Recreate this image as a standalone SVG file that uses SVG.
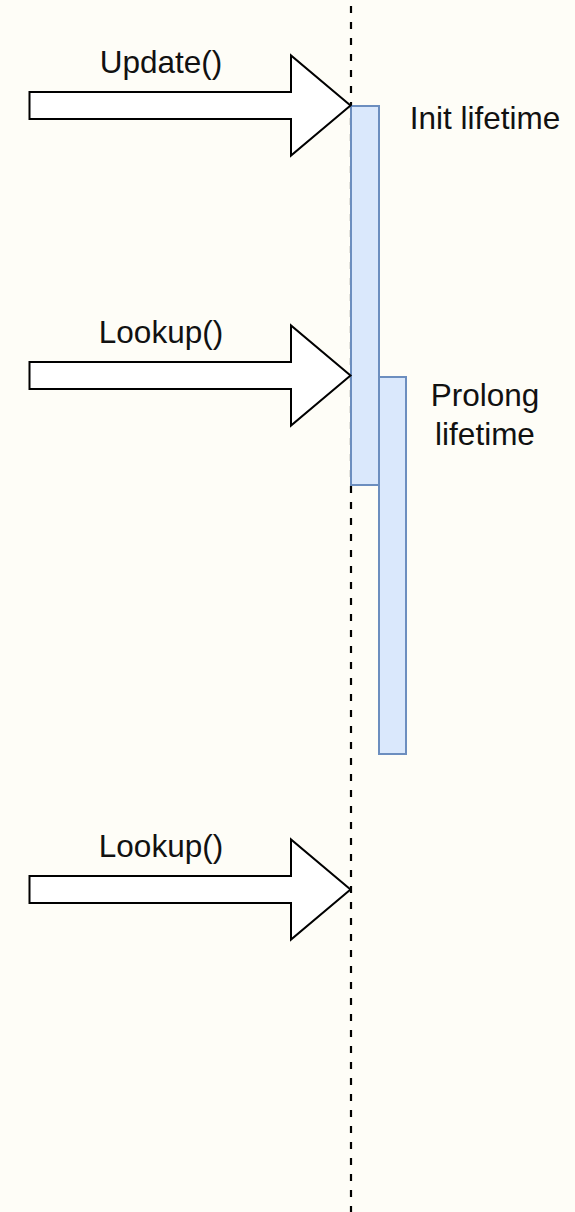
<svg xmlns="http://www.w3.org/2000/svg" width="575" height="1212" viewBox="0 0 575 1212">
  <style>
    .call { fill: #ffffff; stroke: #000000; stroke-width: 2; stroke-linejoin: miter; }
    .bar { fill: #dae8fc; stroke: #6c8ebf; stroke-width: 2; }
    .lbl { font-family: "Liberation Sans", Arial, sans-serif; font-size: 31.5px; fill: #111111; text-anchor: middle; }
    .lifeline { stroke: #000000; stroke-width: 2.2; stroke-dasharray: 7 9; fill: none; }
  </style>
  <rect x="0" y="0" width="575" height="1212" fill="#fefdf7"/>

  <!-- lifeline -->
  <g id="connectors">
    <line class="lifeline" x1="351" y1="6" x2="351" y2="1212"/>
  </g>

  <!-- activation bars -->
  <g id="init-lifetime">
    <rect class="bar" x="351" y="106" width="28" height="379"/>
    <text class="lbl" x="485" y="129">Init lifetime</text>
  </g>
  <g id="prolong-lifetime">
    <rect class="bar" x="379" y="377" width="27" height="377"/>
    <text class="lbl" x="485" y="406">Prolong</text>
    <text class="lbl" x="485" y="445">lifetime</text>
  </g>

  <!-- incoming calls -->
  <g id="update-call">
    <path class="call" d="M29.5 92 H291 V55.5 L350.5 105.5 L291 155.5 V119 H29.5 Z"/>
    <text class="lbl" x="161" y="73">Update()</text>
  </g>
  <g id="lookup-call-1">
    <path class="call" d="M29.5 362 H291 V325.5 L350.5 375.5 L291 425.5 V389 H29.5 Z"/>
    <text class="lbl" x="161" y="343">Lookup()</text>
  </g>
  <g id="lookup-call-2">
    <path class="call" d="M29.5 876 H291 V839.5 L350.5 889.5 L291 939.5 V903 H29.5 Z"/>
    <text class="lbl" x="161" y="857">Lookup()</text>
  </g>
</svg>
